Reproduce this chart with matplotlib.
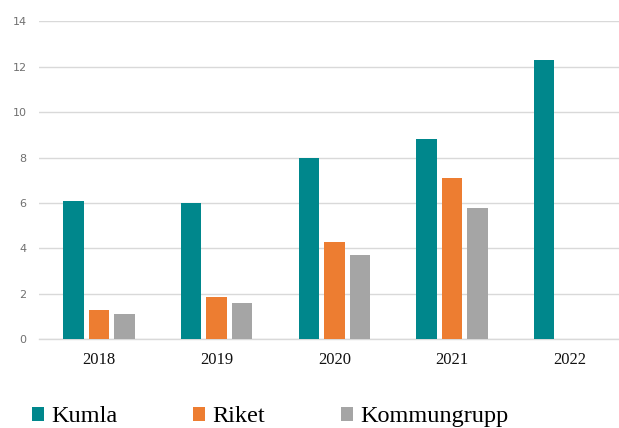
import matplotlib
matplotlib.use("Agg")
import matplotlib.pyplot as plt
import numpy as np

years = ["2018", "2019", "2020", "2021", "2022"]
kumla = [6.1, 6.0, 8.0, 8.8, 12.3]
riket = [1.3, 1.85, 4.3, 7.1, np.nan]
kommungrupp = [1.1, 1.6, 3.7, 5.8, np.nan]
series_names = ["Kumla", "Riket", "Kommungrupp"]
colors = ["#00878C", "#ED7D31", "#A5A5A5"]
yticks = [0, 2, 4, 6, 8, 10, 12, 14]

fig = plt.figure(figsize=(6.19, 4.28), dpi=100)
ax = fig.add_axes([0.063, 0.2072, 0.937, 0.7428])

x = np.arange(len(years))
w = 0.174
off = 0.217
handles = []
for i, (vals, name, c) in enumerate(zip([kumla, riket, kommungrupp], series_names, colors)):
    b = ax.bar(x + (i - 1) * off, vals, width=w, color=c, label=name, zorder=3)
    handles.append(b)

ax.set_xlim(-0.51, 4.42)
ax.set_ylim(0, 14)
ax.set_yticks(yticks)
ax.set_yticklabels([str(t) for t in yticks], fontsize=8, color="#707070", family="DejaVu Sans")
ax.set_xticks(x)
ax.set_xticklabels(years, fontsize=12, family="Liberation Serif", color="#111111")
ax.tick_params(axis="both", length=0)
ax.tick_params(axis="x", pad=9)
ax.tick_params(axis="y", pad=9)
ax.grid(axis="y", color="#D9D9D9", linewidth=1.0, zorder=0)
for s in ["top", "right", "left"]:
    ax.spines[s].set_visible(False)
ax.spines["bottom"].set_color("#D9D9D9")
ax.spines["bottom"].set_linewidth(1.0)

leg = fig.legend(handles=handles, labels=series_names, loc="center left",
                 bbox_to_anchor=(0.036, 0.026), ncol=3, frameon=False,
                 prop={"family": "Liberation Serif", "size": 17.5},
                 handlelength=0.5, handleheight=0.5, handletextpad=0.3,
                 columnspacing=3.1, borderaxespad=0)

fig.savefig("out.png", dpi=100)
